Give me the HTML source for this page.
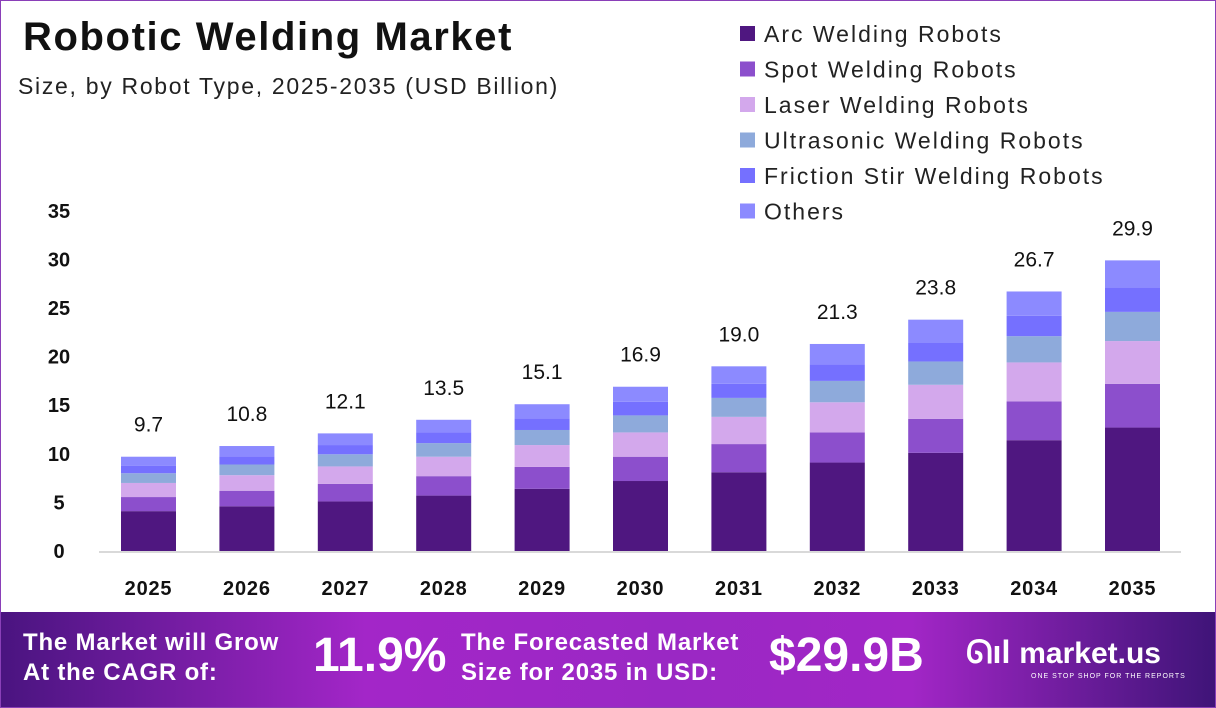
<!DOCTYPE html>
<html><head><meta charset="utf-8"><style>
body{margin:0;width:1216px;height:708px;overflow:hidden;font-family:"Liberation Sans",sans-serif;background:#fff}
#wrap{position:relative;width:1214px;height:706px;border:1px solid #8a3fb8;background:#fff}
.t{position:absolute;white-space:nowrap}
</style></head><body>
<div id="wrap">
<div class="t" style="left:22px;top:14px;font-size:40px;font-weight:bold;color:#111;letter-spacing:1.6px">Robotic Welding Market</div>
<div class="t" style="left:17px;top:72px;font-size:23px;color:#222;letter-spacing:1.7px">Size, by Robot Type, 2025-2035 (USD Billion)</div>
<svg id="chart" width="1216" height="612" style="position:absolute;left:0;top:0"></svg>
<div style="position:absolute;left:0;top:611px;width:1214px;height:95px;background:linear-gradient(90deg,#4a1480 0%,#a326c8 30%,#9a28c4 55%,#a226c6 75%,#3f1478 100%)">
<div class="t" style="left:22px;top:16px;font-size:24px;font-weight:bold;color:#fff;line-height:30px;letter-spacing:0.8px">The Market will Grow<br>At the CAGR of:</div>
<div class="t" style="left:312px;top:16px;font-size:48px;font-weight:bold;color:#fff">11.9%</div>
<div class="t" style="left:460px;top:16px;font-size:24px;font-weight:bold;color:#fff;line-height:30px;letter-spacing:0.8px">The Forecasted Market<br>Size for 2035 in USD:</div>
<div class="t" style="left:768px;top:16px;font-size:48px;font-weight:bold;color:#fff">$29.9B</div>
<div class="t" style="left:965px;top:22px;font-size:32px;font-weight:bold;color:#fff">ᘏıl <span style="font-size:30px">market.us</span></div>
<div class="t" style="left:1030px;top:61px;font-size:7px;color:#fff;letter-spacing:1px">ONE STOP SHOP FOR THE REPORTS</div>
</div>
</div>
<script>
const years=["2025","2026","2027","2028","2029","2030","2031","2032","2033","2034","2035"];
const totals=["9.7","10.8","12.1","13.5","15.1","16.9","19.0","21.3","23.8","26.7","29.9"];
const arc=[4.1,4.6,5.1,5.7,6.4,7.2,8.1,9.1,10.1,11.4,12.7];
const spot=[1.45,1.6,1.8,2.0,2.25,2.5,2.9,3.1,3.5,4.0,4.5];
const laser=[1.45,1.6,1.8,2.0,2.25,2.5,2.8,3.1,3.5,4.0,4.4];
const ultra=[1.0,1.1,1.25,1.4,1.55,1.75,1.95,2.2,2.4,2.7,3.0];
const friction=[0.75,0.85,0.95,1.1,1.2,1.4,1.45,1.7,1.9,2.1,2.5];
const others=[0.95,1.05,1.2,1.3,1.45,1.55,1.8,2.1,2.4,2.5,2.8];
const yTicks=[0,5,10,15,20,25,30,35];
const series=[["Arc Welding Robots",arc,"#4f1780"],["Spot Welding Robots",spot,"#8c4fcc"],["Laser Welding Robots",laser,"#d3a8ec"],["Ultrasonic Welding Robots",ultra,"#8eaadb"],["Friction Stir Welding Robots",friction,"#7570ff"],["Others",others,"#8c8aff"]];
const NS="http://www.w3.org/2000/svg",svg=document.getElementById('chart');
const y=v=>550-v*9.72, x=i=>147.5+i*98.4, bw=55;
function mk(t,a){const e=document.createElementNS(NS,t);for(const k in a)e.setAttribute(k,a[k]);svg.appendChild(e);return e;}
yTicks.forEach(v=>{const e=mk('text',{x:58,y:y(v)+7,'text-anchor':'middle','font-size':20,'font-weight':'bold',fill:'#111'});e.textContent=v;

});
const ax=mk('line',{x1:98,x2:1180,y1:551,y2:551,stroke:'#d9d9d9','stroke-width':2});


years.forEach((yr,i)=>{let acc=0;
series.forEach(([n,arr,c])=>{const r=mk('rect',{x:x(i)-bw/2,y:y(acc+arr[i]),width:bw,height:arr[i]*9.72,fill:c});acc+=arr[i];

});
const tl=mk('text',{x:x(i),y:y(parseFloat(totals[i]))-25,'text-anchor':'middle','font-size':21,fill:'#111'});tl.textContent=totals[i];


const xl=mk('text',{x:x(i),y:594,'text-anchor':'middle','font-size':20,'font-weight':'bold',fill:'#111','letter-spacing':0.8});xl.textContent=yr;

});
series.forEach(([n,arr,c],k)=>{const yy=33+k*35.5;
const s=mk('rect',{x:739,y:yy-8,width:15,height:15,fill:c});


const t=mk('text',{x:763,y:yy+8,'font-size':23,fill:'#222','letter-spacing':2});t.textContent=n;

});
</script>
</body></html>
